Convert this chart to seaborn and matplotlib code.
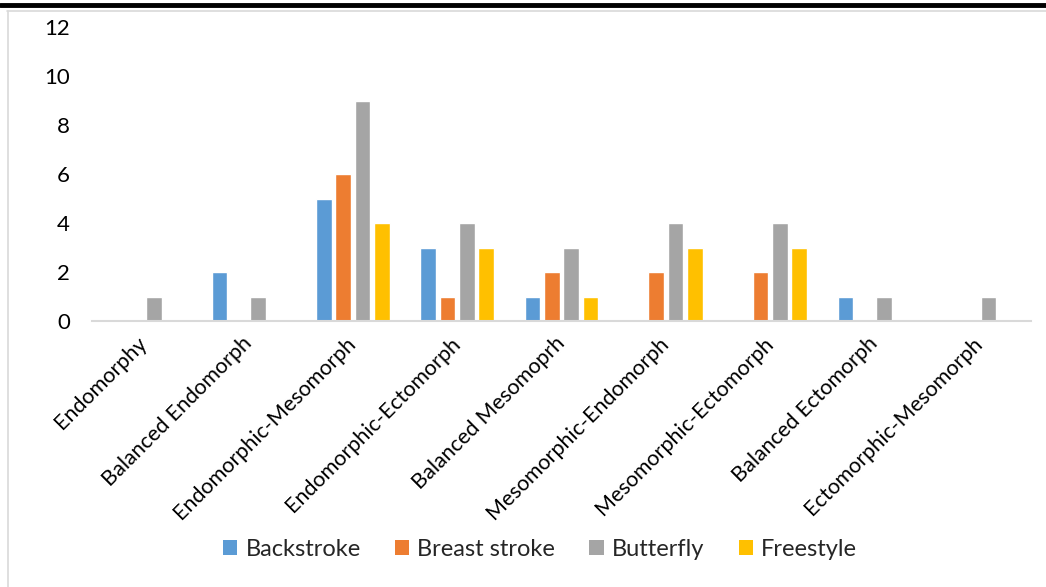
import matplotlib
matplotlib.use("Agg")
import matplotlib.pyplot as plt
import seaborn as sns
import pandas as pd
from matplotlib.patches import Rectangle
from matplotlib.lines import Line2D

categories = ["Endomorphy", "Balanced Endomorph", "Endomorphic-Mesomorph",
              "Endomorphic-Ectomorph", "Balanced Mesomoprh", "Mesomorphic-Endomorph",
              "Mesomorphic-Ectomorph", "Balanced Ectomorph", "Ectomorphic-Mesomorph"]
series = ["Backstroke", "Breast stroke", "Butterfly", "Freestyle"]
backstroke = [0, 2, 5, 3, 1, 0, 0, 1, 0]
breast_stroke = [0, 0, 6, 1, 2, 2, 2, 0, 0]
butterfly = [1, 1, 9, 4, 3, 4, 4, 1, 1]
freestyle = [0, 0, 4, 3, 1, 3, 3, 0, 0]
colors = ["#5B9BD5", "#ED7D31", "#A5A5A5", "#FFC000"]

rows = []
for s, vals in zip(series, [backstroke, breast_stroke, butterfly, freestyle]):
    for c, v in zip(categories, vals):
        rows.append({"Category": c, "Series": s, "Value": v})
df = pd.DataFrame(rows)

sns.set_theme(style="white")
plt.rcParams["font.family"] = ["Lato", "DejaVu Sans"]

W, H = 1046, 587
fig = plt.figure(figsize=(W / 100, H / 100), dpi=100)
ax = fig.add_axes([92 / W, 1 - 321 / H, (1031 - 92) / W, (321 - 27) / H])

sns.barplot(data=df, x="Category", y="Value", hue="Series", order=categories,
            hue_order=series, palette=colors, width=0.74, gap=0.2,
            saturation=1, ax=ax, legend=False)

ax.set_ylim(0, 12)
ax.set_yticks(range(0, 13, 2))
ax.set_xlim(-0.5, len(categories) - 0.5)
ax.set_xlabel("")
ax.set_ylabel("")
for sp in ["top", "right", "left"]:
    ax.spines[sp].set_visible(False)
ax.spines["bottom"].set_color("#D9D9D9")
ax.spines["bottom"].set_linewidth(1.5)
ax.tick_params(axis="y", length=0, pad=16, labelsize=16, labelcolor="black")
ax.tick_params(axis="x", length=0, pad=14, labelsize=15.5, labelcolor="black")
plt.setp(ax.get_xticklabels(), rotation=45, ha="right", va="center",
         rotation_mode="anchor")

# legend
handles = [Rectangle((0, 0), 1, 1, facecolor=c, edgecolor="none") for c in colors]
fig.legend(handles, series, loc="center", bbox_to_anchor=(540 / W, 1 - 549 / H),
           ncol=4, frameon=False, fontsize=17, handlelength=0.6, handleheight=0.6,
           handletextpad=0.35, columnspacing=1.45)

# frame decorations
fig.add_artist(Line2D([0, 1], [1 - 5 / H, 1 - 5 / H], transform=fig.transFigure,
                      color="black", linewidth=3.5))
fig.add_artist(Line2D([7 / W, 1], [1 - 10.5 / H, 1 - 10.5 / H], transform=fig.transFigure,
                      color="#D9D9D9", linewidth=1.2))
fig.add_artist(Line2D([7.5 / W, 7.5 / W], [0, 1 - 10.5 / H], transform=fig.transFigure,
                      color="#D9D9D9", linewidth=1.2))

fig.savefig("out.png", dpi=100)
